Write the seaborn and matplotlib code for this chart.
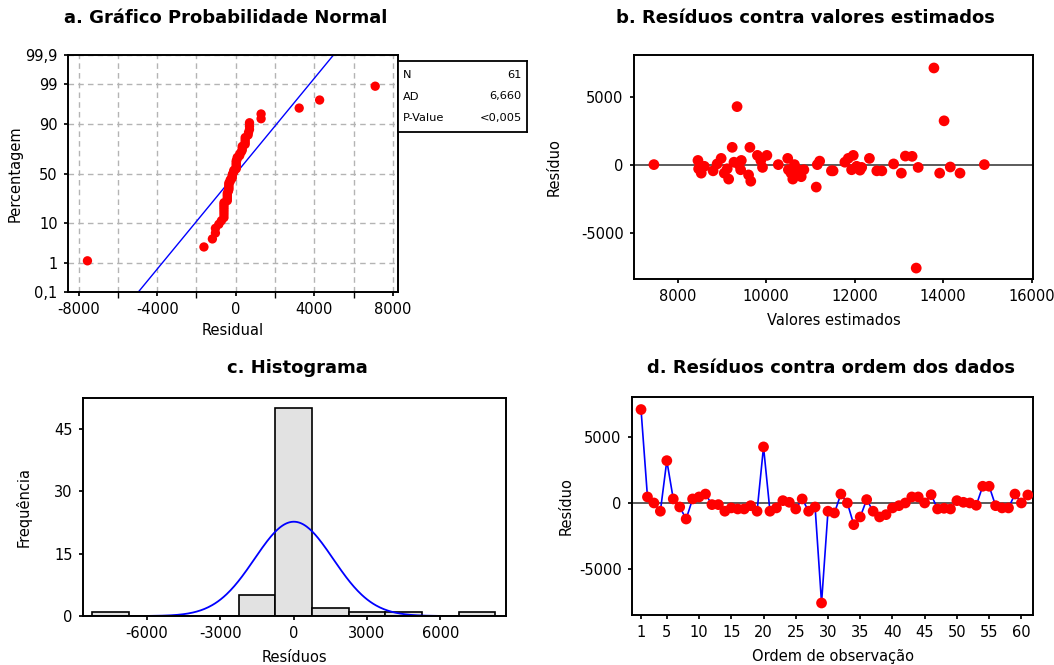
import numpy as np
import pandas as pd
import matplotlib
matplotlib.use("Agg")
import matplotlib.pyplot as plt
from matplotlib.ticker import MultipleLocator
import seaborn as sns
from statistics import NormalDist

# ---------------- data ----------------
residuals = [7100, 480, 25, -600, 3230, 330, -280, -1190, 330, 480,
             700, -100, -100, -600, -350, -430, -430, -180, -600, 4270,
             -600, -350, 200, 75, -430, 330, -600, -280, -7550, -600,
             -730, 700, 25, -1620, -1035, 280, -600, -1035, -860, -350,
             -180, 25, 480, 480, 25, 650, -430, -380, -430, 200,
             75, 25, -150, 1290, 1290, -180, -350, -350, 700, 25, 630]
fitted = [13790, 8980, 7460, 13054, 14020, 8456, 8471, 9650, 9436, 11853,
          9800, 8600, 12043, 13920, 9421, 11473, 11511, 12157, 14380, 9340,
          8530, 11929, 9270, 8889, 12613, 9877, 9050, 9117, 13390, 10560,
          9600, 10014, 9383, 11130, 10600, 11207, 10760, 9150, 10790, 10500,
          13434, 10272, 12332, 10485, 10637, 13145, 8798, 12119, 12499, 11777,
          12879, 11154, 14160, 9630, 9230, 9915, 10713, 10850, 11967, 14930, 13297]
order = list(range(1, len(residuals) + 1))

prob_ticks = [0.1, 1, 10, 50, 90, 99, 99.9]
prob_labels = ["0,1", "1", "10", "50", "90", "99", "99,9"]
hist_edges = [-8250 + 1500 * k for k in range(12)]
stats_labels = ["N", "AD", "P-Value"]
stats_values = ["61", "6,660", "<0,005"]

# ---------------- style ----------------
sns.set_theme(style="white")
plt.rcParams["font.family"] = ["DejaVu Sans"]
plt.rcParams["axes.unicode_minus"] = False
plt.rcParams["axes.edgecolor"] = "black"
plt.rcParams["axes.linewidth"] = 1.4
plt.rcParams["text.color"] = "black"
plt.rcParams["axes.labelcolor"] = "black"
plt.rcParams["xtick.color"] = "black"
plt.rcParams["ytick.color"] = "black"
plt.rcParams["xtick.direction"] = "out"
plt.rcParams["ytick.direction"] = "out"
plt.rcParams["xtick.major.size"] = 3
plt.rcParams["ytick.major.size"] = 3
plt.rcParams["xtick.bottom"] = True
plt.rcParams["ytick.left"] = True

TICK_FS = 10.5
LAB_FS = 10.5
TITLE_FS = 13
PAD = 4.5

W, H = 1054, 665
fig = plt.figure(figsize=(W / 100, H / 100), dpi=100)
fig.patch.set_facecolor("white")


def px_axes(left, top, right, bottom):
    return fig.add_axes([left / W, 1 - bottom / H, (right - left) / W, (bottom - top) / H])


res = np.array(residuals, dtype=float)
n = len(res)
mu = res.mean()
sd = res.std(ddof=1)
nd = NormalDist()

# ---------------- a. normal probability plot ----------------
axa = px_axes(68, 55, 398, 292)
srt = np.sort(res)
ranks = np.arange(1, n + 1)
pp = (ranks - 0.3) / (n + 0.4)
zz = np.array([nd.inv_cdf(p) for p in pp])
zlim = nd.inv_cdf(0.999)
zline = np.linspace(-zlim, zlim, 50)
xline = mu + sd * zline
sns.lineplot(x=xline, y=zline, ax=axa, color="#0000ff", lw=1.0, sort=False)
sns.scatterplot(x=srt, y=zz, ax=axa, color="red", s=45, edgecolor="none", linewidth=0, zorder=5)
axa.set_xlim(-8540, 8260)
axa.set_ylim(-zlim, zlim)
axa.set_yticks([nd.inv_cdf(p / 100) for p in prob_ticks])
axa.set_yticklabels(prob_labels)
axa.xaxis.set_major_locator(MultipleLocator(4000))
axa.xaxis.set_minor_locator(MultipleLocator(2000))
axa.grid(True, which="both", axis="x", ls=(0, (4, 3)), color="#b4b4b4", lw=1.0)
axa.grid(True, which="major", axis="y", ls=(0, (4, 3)), color="#b4b4b4", lw=1.0)
axa.set_xlabel("Residual", fontsize=LAB_FS, labelpad=4)
axa.set_ylabel("Percentagem", fontsize=LAB_FS, labelpad=2)
axa.tick_params(labelsize=TICK_FS, pad=PAD)

# stats box
box = px_axes(398, 61, 527, 132)
box.set_xticks([]); box.set_yticks([])
box.set_xlim(0, 1); box.set_ylim(0, 1)
for sp in box.spines.values():
    sp.set_linewidth(1.3)
for i, (lab, val) in enumerate(zip(stats_labels, stats_values)):
    yy = 0.8 - i * 0.3
    box.text(0.04, yy, lab, fontsize=8.2, va="center", ha="left")
    box.text(0.96, yy, val, fontsize=8.2, va="center", ha="right")

# ---------------- b. residuals vs fitted ----------------
axb = px_axes(634, 55, 1033, 279)
axb.axhline(0, color="#404040", lw=1.2, zorder=1)
sns.scatterplot(x=fitted, y=residuals, ax=axb, color="red", s=60, edgecolor="none", linewidth=0, zorder=5)
axb.set_xlim(7010, 16030)
axb.set_ylim(-8350, 8050)
axb.set_xticks([8000, 10000, 12000, 14000, 16000])
axb.set_yticks([-5000, 0, 5000])
axb.set_xlabel("Valores estimados", fontsize=LAB_FS, labelpad=6)
axb.set_ylabel("Resíduo", fontsize=LAB_FS, labelpad=14)
axb.tick_params(labelsize=TICK_FS, pad=PAD)

# ---------------- c. histogram ----------------
axc = px_axes(83, 398, 506, 616)
sns.histplot(x=residuals, bins=hist_edges, ax=axc, color="#e2e2e2", edgecolor="black",
             linewidth=1.2, alpha=1.0, stat="count")
xc = np.linspace(-5900, 5900, 300)
bw = hist_edges[1] - hist_edges[0]
yc = n * bw * np.array([NormalDist(mu, sd).pdf(v) for v in xc])
sns.lineplot(x=xc, y=yc, ax=axc, color="#0000ff", lw=1.3)
axc.set_xlim(-8620, 8690)
axc.set_ylim(0, 52.5)
axc.set_xticks([-6000, -3000, 0, 3000, 6000])
axc.set_yticks([0, 15, 30, 45])
axc.set_xlabel("Resíduos", fontsize=LAB_FS, labelpad=6)
axc.set_ylabel("Frequência", fontsize=LAB_FS, labelpad=16)
axc.tick_params(labelsize=TICK_FS, pad=PAD)

# ---------------- d. residuals vs order ----------------
axd = px_axes(632, 397, 1033, 615)
axd.axhline(0, color="#404040", lw=1.2, zorder=1)
sns.lineplot(x=order, y=residuals, ax=axd, color="#0000ff", lw=1.2, zorder=3)
sns.scatterplot(x=order, y=residuals, ax=axd, color="red", s=60, edgecolor="none", linewidth=0, zorder=5)
axd.set_xlim(-0.4, 61.8)
axd.set_ylim(-8460, 8050)
axd.set_xticks([1, 5, 10, 15, 20, 25, 30, 35, 40, 45, 50, 55, 60])
axd.set_yticks([-5000, 0, 5000])
axd.set_xlabel("Ordem de observação", fontsize=LAB_FS, labelpad=6)
axd.set_ylabel("Resíduo", fontsize=LAB_FS, labelpad=4)
axd.tick_params(labelsize=TICK_FS, pad=PAD)

# ---------------- titles ----------------
fig.text(226 / W, 1 - 18 / H, "a. Gráfico Probabilidade Normal", fontsize=TITLE_FS,
         fontweight="bold", ha="center", va="center")
fig.text(805 / W, 1 - 18 / H, "b. Resíduos contra valores estimados", fontsize=TITLE_FS,
         fontweight="bold", ha="center", va="center")
fig.text(297 / W, 1 - 368 / H, "c. Histograma", fontsize=TITLE_FS,
         fontweight="bold", ha="center", va="center")
fig.text(831 / W, 1 - 368 / H, "d. Resíduos contra ordem dos dados", fontsize=TITLE_FS,
         fontweight="bold", ha="center", va="center")

fig.savefig("out.png", dpi=100, facecolor="white")
